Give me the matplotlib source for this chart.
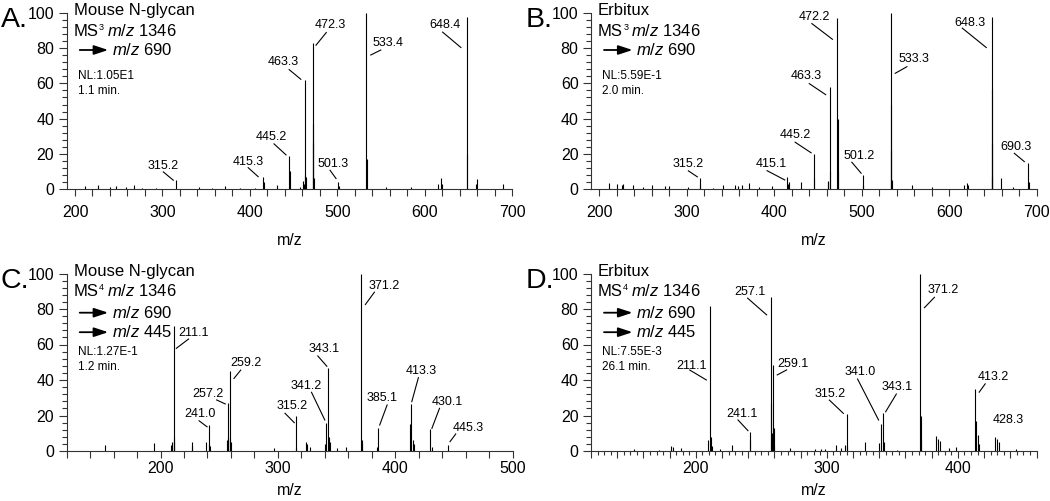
import matplotlib.pyplot as plt
from matplotlib.ticker import MultipleLocator, FuncFormatter
from matplotlib.patches import FancyArrowPatch

plt.rcParams['font.family'] = ['Liberation Sans', 'DejaVu Sans']
plt.rcParams['mathtext.fontset'] = 'custom'
plt.rcParams['mathtext.rm'] = 'Liberation Sans'
plt.rcParams['mathtext.it'] = 'Liberation Sans:italic'

mz_a = [211.4, 226.7, 240.0, 247.0, 258.4, 267.8, 277.0, 293.0, 315.2, 342.0, 357.0, 371.6,
        389.0, 406.0, 415.3, 416.5, 430.6, 445.2, 445.5, 457.0, 461.2, 462.0, 463.3, 463.6,
        464.2, 472.3, 472.5, 472.7, 473.2, 501.3, 502.0, 533.4, 533.6, 556.0, 584.8, 614.9,
        618.7, 619.8, 648.4, 648.6, 658.5, 659.5, 690.0]
int_a = [1.9, 2.5, 1.0, 1.5, 1.2, 2.0, 0.8, 0.6, 5.0, 1.2, 0.7, 1.5,
         0.8, 0.8, 7.0, 4.0, 2.0, 19.0, 10.0, 1.0, 4.5, 3.0, 62.0, 8.0,
         7.0, 83.0, 37.0, 26.0, 6.0, 4.0, 1.5, 100.0, 17.0, 1.0, 1.0, 3.0,
         6.5, 3.0, 98.0, 20.0, 3.0, 5.7, 3.0]
labels_a = ['315.2', '415.3', '445.2', '463.3', '472.3', '501.3', '533.4', '648.4']

mz_b = [211.5, 220.0, 225.7, 227.5, 239.0, 250.0, 260.0, 275.0, 279.7, 301.8, 315.2, 315.6,
        330.0, 341.8, 355.0, 359.0, 363.0, 371.5, 383.0, 397.0, 415.1, 415.5, 417.0, 430.2,
        445.2, 445.5, 461.0, 461.6, 463.3, 463.6, 472.2, 472.4, 472.8, 501.2, 501.6, 533.3,
        533.5, 533.7, 534.0, 557.0, 580.0, 617.2, 620.0, 621.0, 648.3, 648.5, 648.7, 649.0,
        659.1, 673.2, 690.3, 690.6]
int_b = [3.2, 3.0, 2.0, 3.0, 2.4, 1.0, 2.3, 1.7, 1.5, 1.0, 6.0, 2.0,
         0.8, 2.2, 2.4, 1.7, 2.2, 3.6, 1.3, 1.9, 7.0, 3.0, 4.0, 4.0,
         20.0, 6.0, 4.5, 4.0, 58.0, 10.0, 97.0, 40.0, 10.0, 8.0, 2.0, 100.0,
         48.0, 22.0, 5.0, 2.0, 1.0, 2.5, 3.6, 2.0, 98.0, 57.0, 26.0, 7.0,
         6.0, 1.0, 15.0, 4.0]
labels_b = ['315.2', '415.1', '445.2', '463.3', '472.2', '501.2', '533.3', '648.3', '690.3']

mz_c = [152.6, 194.6, 208.6, 209.4, 211.1, 211.4, 211.8, 226.5, 227.0, 238.4, 241.0, 241.5,
        242.5, 256.8, 257.2, 257.6, 259.2, 259.6, 260.2, 296.8, 315.2, 315.6, 323.8, 325.0,
        327.2, 340.6, 341.2, 343.1, 343.5, 344.2, 350.0, 358.5, 371.2, 371.5, 372.0, 384.6,
        385.1, 412.5, 413.3, 415.1, 416.0, 430.1, 431.0, 445.3]
int_c = [3.2, 4.7, 3.4, 5.0, 70.4, 8.0, 5.0, 5.0, 3.0, 5.0, 14.6, 4.0,
         3.0, 6.0, 26.9, 8.0, 45.0, 7.0, 5.0, 1.5, 19.9, 2.0, 5.0, 4.0,
         2.5, 4.0, 16.0, 47.0, 8.0, 5.0, 1.5, 2.0, 100.0, 6.0, 4.0, 2.0,
         12.8, 15.0, 26.5, 6.0, 4.0, 12.2, 2.0, 3.4]
labels_c = ['211.1', '241.0', '257.2', '259.2', '315.2', '341.2', '343.1', '371.2',
            '385.1', '413.3', '430.1', '445.3']

mz_d = [152.8, 172.0, 181.0, 182.6, 188.5, 209.6, 211.1, 211.5, 212.0, 218.5, 227.5, 241.1,
        241.5, 257.1, 257.4, 258.0, 259.1, 259.4, 260.0, 271.5, 291.1, 295.5, 298.8, 307.2,
        310.7, 313.5, 315.2, 315.5, 329.3, 339.5, 341.0, 343.1, 343.8, 353.5, 371.2, 371.6,
        372.0, 383.3, 384.6, 386.0, 393.0, 398.8, 413.2, 414.0, 415.3, 416.0, 428.3, 429.9,
        431.1, 444.7]
int_d = [1.3, 0.8, 2.8, 2.0, 1.5, 6.4, 81.7, 8.0, 3.0, 1.0, 3.4, 10.9,
         6.0, 87.0, 27.0, 10.0, 48.5, 13.0, 3.0, 1.5, 1.3, 1.4, 1.0, 3.2,
         1.5, 3.4, 20.8, 3.0, 5.0, 4.5, 15.2, 21.2, 5.0, 0.8, 100.0, 20.0,
         6.0, 8.5, 7.0, 5.5, 1.5, 2.0, 35.0, 17.0, 9.0, 4.0, 8.0, 6.5,
         5.0, 1.0]
labels_d = ['211.1', '241.1', '257.1', '259.1', '315.2', '341.0', '343.1', '371.2',
            '413.2', '428.3']

titulos = ['Mouse N-glycan', 'Erbitux', 'Mouse N-glycan', 'Erbitux']
precursores = [['690'], ['690'], ['690', '445'], ['690', '445']]
nl_textos = ['NL:1.05E1', 'NL:5.59E-1', 'NL:1.27E-1', 'NL:7.55E-3']
tiempos_txt = ['1.1 min.', '2.0 min.', '1.2 min.', '26.1 min.']
letras = ['A.', 'B.', 'C.', 'D.']
rangos_x = [(190.5, 700), (190.6, 700), (120, 500), (120, 460)]

# ---- layout (pixeles de la imagen) ----
W, H = 1050, 501
cajas = [(66.7, 13, 512.0, 189), (591, 13, 1036.8, 189),
         (66.7, 273.5, 512.5, 451), (591, 273.5, 1036.5, 451)]

# offsets de etiquetas (px, y hacia arriba): texto, inicio linea, fin linea
off_a = {'315.2': (-12.4, 14.3, -12.4, 8.3, -2.4, 0), '415.3': (-15, 15, -15, 9, -5, 0),
         '445.2': (-17.6, 18.3, -15.3, 11.7, -3.3, 0.7), '463.3': (-22.3, 18.3, -16, 10.3, -4.3, 0.6),
         '472.3': (17.3, 17.7, 13.3, 10.4, 3, -2.3), '501.3': (-5, 17.7, -8.3, 11.7, -2.3, 3.4),
         '533.4': (22, -30.3, 14.4, -37, 4.4, -42), '648.4': (-22, -8.3, -24.3, -15.6, -6, -31)}
off_b = {'315.2': (-11.7, 14.3, -11.7, 7.6, -2.7, 1.6), '415.1': (-16, 12.7, -20.4, 6, -2.7, -3.3),
         '445.2': (-18.7, 18.3, -18.7, 11.6, -2.7, 1), '463.3': (-23, 10.6, -20.4, 3.3, -4, -7.7),
         '472.2': (-23, 1.7, -25.6, -5.3, -5, -21), '501.2': (-3.7, 19, -11, 12.7, -1.7, 1.7),
         '533.3': (22.6, -46, 16, -53.7, 4.3, -60.3), '648.3': (-21.7, -6, -29.3, -11.6, -5.3, -31),
         '690.3': (-12.3, 16, -14, 9.3, -4, 1)}
off_c = {'211.1': (20, -6.7, 15, -13, 2.7, -22.3), '241.0': (-9, 10.7, -9.6, 4.3, -1.6, -1.7),
         '257.2': (-19.4, 9.3, -11, 3.3, -2.4, -0.7), '259.2': (15.7, 7.7, 10.7, 1, 4, -7.3),
         '315.2': (-4, 9.7, -10.7, 2.4, -1.4, -7), '341.2': (-20.4, 36.9, -14.7, 30.3, -1.4, 2.6),
         '343.1': (-4.3, 18.6, -10.6, 11.6, -1.6, 1.3), '371.2': (22.3, -12.7, 13, -18.7, 4, -31),
         '385.1': (4.4, 30, 9.4, 23.3, 2, 3.3), '413.3': (10, 33.3, 7.6, 26.3, 1, 2.3),
         '430.1': (16.4, 27.6, 9, 21, 1.4, 1), '445.3': (20, 17.3, 7.4, 11, 1.7, 3.3)}
off_d = {'211.1': (-19, -59.7, -20.7, -64, -4, -74), '241.1': (-7.3, 17.7, -11.7, 11.7, -1.7, 1),
         '257.1': (-20.7, 4.4, -23, -1.6, -4, -18.3), '259.1': (19.7, 1, 13.4, -5, 4, -10),
         '315.2': (-16.7, 20, -17.4, 14, -3.4, 0.7), '341.0': (-20.3, 51.7, -23, 45, -2, 4),
         '343.1': (13.6, 26.6, 13, 19.3, 2.3, 1.6), '371.2': (23.3, -16.5, 14.3, -23.8, 4.3, -34.2),
         '413.2': (18.3, 12.3, 10, 5, 4, -3.3), '428.3': (13.3, 16.7, None, None, None, None)}

paneles = [(mz_a, int_a, labels_a, off_a), (mz_b, int_b, labels_b, off_b),
           (mz_c, int_c, labels_c, off_c), (mz_d, int_d, labels_d, off_d)]

fig = plt.figure(figsize=(W / 100, H / 100), dpi=100)
renderer = fig.canvas.get_renderer()


def fx(x):
    return x / W


def fy(y):
    return 1 - y / H


def linea_ms(x, y_base, n):
    # "MS" + superindice chico + " m/z 1346"
    t1 = fig.text(fx(x), fy(y_base), 'MS', fontsize=12, va='baseline')
    bb = t1.get_window_extent(renderer)
    t2 = fig.text((bb.x1 + 0.3) / W, fy(y_base - 6.5), str(n), fontsize=6.5, va='baseline')
    bb2 = t2.get_window_extent(renderer)
    fig.text((bb2.x1 + 3) / W, fy(y_base), r'$\mathit{m/z}$ 1346', fontsize=12, va='baseline')


for i, (mz, inten, etiquetas, offs) in enumerate(paneles):
    x0, y0, x1, y1 = cajas[i]
    ax = fig.add_axes([fx(x0), fy(y1), (x1 - x0) / W, (y1 - y0) / H])
    ax.set_xlim(*rangos_x[i])
    ax.set_ylim(0, 100)
    ax.vlines(mz, 0, inten, color='black', lw=0.8)
    for s in ['top', 'right']:
        ax.spines[s].set_visible(False)
    for s in ['left', 'bottom']:
        ax.spines[s].set_linewidth(0.8)
        ax.spines[s].set_color('#333333')
    ax.yaxis.set_major_locator(MultipleLocator(20))
    ax.yaxis.set_minor_locator(MultipleLocator(4))
    ax.xaxis.set_major_locator(MultipleLocator(20))
    ax.xaxis.set_major_formatter(FuncFormatter(lambda v, p: '%d' % v if abs(v % 100) < 1e-6 else ''))
    if i == 3:
        ax.xaxis.set_minor_locator(MultipleLocator(5))
    ax.tick_params(axis='both', which='both', direction='out', width=0.8, color='#333333',
                   labelsize=11.5)
    ax.tick_params(axis='y', which='major', length=6, pad=3)
    ax.tick_params(axis='y', which='minor', length=3.5)
    ax.tick_params(axis='x', which='major', length=5, pad=6.5 if i < 2 else 2.5)
    ax.tick_params(axis='x', which='minor', length=3)
    ax.set_xlabel('m/z', fontsize=11.5, va='center')
    ax.xaxis.set_label_coords(0.5, -0.295 if i < 2 else -0.22)

    # etiquetas de picos
    inv = ax.transData.inverted()
    for lab in etiquetas:
        v = float(lab)
        h = max(it for m, it in zip(mz, inten) if abs(m - v) < 0.05)
        px, py = ax.transData.transform((v, h))
        tdx, tdy, l0x, l0y, l1x, l1y = offs[lab]
        tx, ty = inv.transform((px + tdx, py + tdy))
        ax.text(tx, ty, lab, fontsize=9, ha='center', va='center', clip_on=False)
        if l0x is not None:
            (ax_, ay_), (bx_, by_) = inv.transform([(px + l0x, py + l0y), (px + l1x, py + l1y)])
            ax.plot([ax_, bx_], [ay_, by_], color='black', lw=0.8, clip_on=False)

    # textos del panel
    base = 0 if i < 2 else 260.5
    tx0 = x0 + 7
    fig.text(fx(x0 - 66 if i % 2 == 0 else x0 - 65), fy(base + 27.3), letras[i],
             fontsize=20.5, ha='left', va='baseline')
    fig.text(fx(tx0), fy(base + 10.7), titulos[i], fontsize=12, va='center')
    linea_ms(tx0, base + 36, len(precursores[i]) + 2)
    for k, p in enumerate(precursores[i]):
        yy = base + 50 + 20 * k if i < 2 else base + 52.2 + 19.5 * k
        flecha = FancyArrowPatch((fx(x0 + 13), fy(yy)), (fx(x0 + 41.5), fy(yy)),
                                 transform=fig.transFigure,
                                 arrowstyle='-|>,head_length=0.85,head_width=0.28',
                                 mutation_scale=10, lw=1.3, color='black',
                                 shrinkA=0, shrinkB=0)
        fig.add_artist(flecha)
        fig.text(fx(x0 + 45), fy(yy), r'$\mathit{m/z}$ ' + p, fontsize=12, va='center')
    nl_y = base + 76 if i < 2 else base + 91.5
    fig.text(fx(x0 + 11), fy(nl_y), nl_textos[i], fontsize=8.5, va='center')
    fig.text(fx(x0 + 11), fy(nl_y + 14.5), tiempos_txt[i], fontsize=8.5, va='center')

plt.savefig('out.png', dpi=100)
